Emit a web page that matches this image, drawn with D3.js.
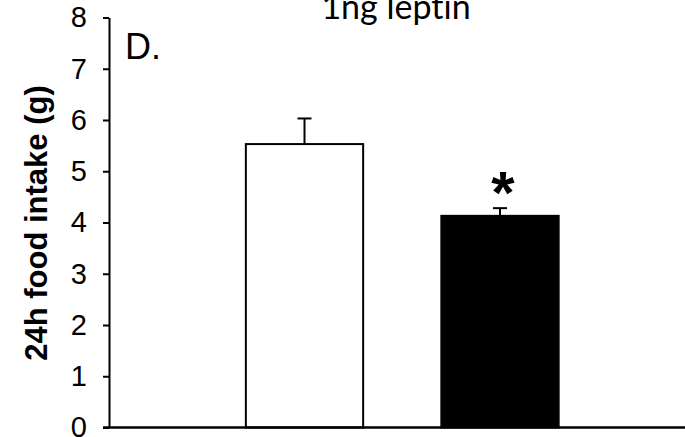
<!DOCTYPE html>
<html>
<head>
<meta charset="utf-8">
<script src="https://cdn.jsdelivr.net/npm/d3@7/dist/d3.min.js"></script>
<style>
html,body{margin:0;padding:0;background:#fff;overflow:hidden;}
svg{display:block;}
</style>
</head>
<body>
<svg id="chart" width="685" height="437"></svg>
<script>
const categories = ["vehicle", "1ng leptin"];
const values = [5.53, 4.13];
const errors = [0.50, 0.15];
const fills = ["#ffffff", "#000000"];
const yTicks = [0, 1, 2, 3, 4, 5, 6, 7, 8];
const title = "1ng leptin";
const panel = "D.";
const yLabel = "24h food intake (g)";
const sigMarks = ["", "*"];

const W = 685, H = 437;
const svg = d3.select("#chart");

const y = d3.scaleLinear().domain([0, 8]).range([427.5, 17.5]);
const x = d3.scaleBand().domain(categories).range([109, 695.5]).paddingInner(0.4).paddingOuter(0.7);

// bars
svg.selectAll("rect.bar").data(categories).enter().append("rect")
  .attr("class", "bar")
  .attr("x", d => x(d))
  .attr("width", x.bandwidth())
  .attr("y", (d, i) => y(values[i]))
  .attr("height", (d, i) => y(0) - y(values[i]))
  .attr("fill", (d, i) => fills[i])
  .attr("stroke", "#000")
  .attr("stroke-width", 2);

// error bars
const cap = 7;
categories.forEach((c, i) => {
  const cx = x(c) + x.bandwidth() / 2;
  svg.append("line").attr("x1", cx).attr("x2", cx)
    .attr("y1", y(values[i])).attr("y2", y(values[i] + errors[i]))
    .attr("stroke", "#000").attr("stroke-width", 2);
  svg.append("line").attr("x1", cx - cap).attr("x2", cx + cap)
    .attr("y1", y(values[i] + errors[i])).attr("y2", y(values[i] + errors[i]))
    .attr("stroke", "#000").attr("stroke-width", 2);
  if (sigMarks[i]) {
    svg.append("text").attr("x", cx + 3).attr("y", y(values[i] + errors[i]) + 5)
      .attr("text-anchor", "middle")
      .attr("font-family", "Liberation Sans, Arial, sans-serif")
      .attr("font-weight", "bold")
      .attr("font-size", 60)
      .attr("fill", "#000")
      .text(sigMarks[i]);
  }
});

// y axis
const yAxis = d3.axisLeft(y).tickValues(yTicks).tickSize(6).tickSizeOuter(0).tickPadding(16).tickFormat(d3.format("d"));
const gy = svg.append("g").attr("transform", "translate(109,0)").call(yAxis);
gy.select(".domain").attr("stroke", "#000").attr("stroke-width", 2);
gy.selectAll(".tick line").attr("stroke", "#000").attr("stroke-width", 2);
gy.selectAll(".tick text")
  .attr("font-family", "Liberation Sans, Arial, sans-serif")
  .attr("font-size", 29).attr("fill", "#000");

// x axis line
svg.append("line").attr("x1", 103).attr("x2", W).attr("y1", y(0)).attr("y2", y(0))
  .attr("stroke", "#000").attr("stroke-width", 2.5);

// y label
svg.append("text")
  .attr("transform", "translate(47,223) rotate(-90)")
  .attr("text-anchor", "middle")
  .attr("font-family", "Liberation Sans, Arial, sans-serif")
  .attr("font-weight", "bold")
  .attr("font-size", 31)
  .attr("fill", "#000")
  .text(yLabel);

// panel label
svg.append("text").attr("x", 125).attr("y", 59)
  .attr("font-family", "Liberation Sans, Arial, sans-serif")
  .attr("font-size", 36).attr("fill", "#000").text(panel);

// title
svg.append("text").attr("x", 396).attr("y", 19)
  .attr("text-anchor", "middle")
  .attr("font-family", "Lato, Carlito, Calibri, sans-serif")
  .attr("font-size", 34)
  .style("font-variant-ligatures", "none")
  .attr("fill", "#000").text(title);
</script>
</body>
</html>
